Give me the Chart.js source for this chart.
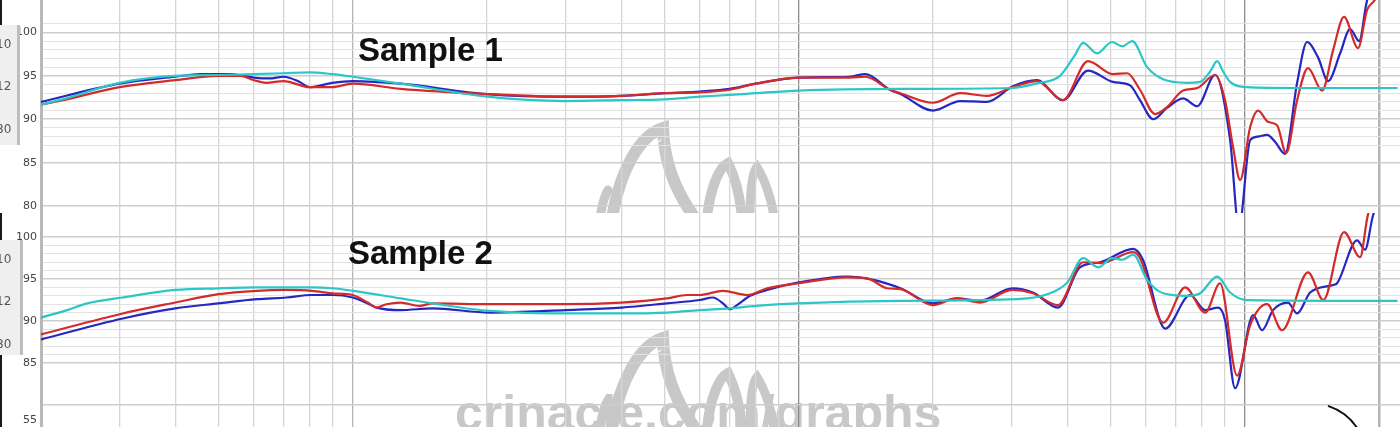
<!DOCTYPE html>
<html lang="en">
<head>
    <meta charset="UTF-8">
    <title>Sample 1 / Sample 2</title>
    <script src="https://cdn.jsdelivr.net/npm/chart.js"></script>
    <style>
        html, body {
            margin: 0;
            padding: 0;
            background: #ffffff;
            overflow: hidden;
        }
        .panel {
            position: absolute;
            left: 0;
            width: 1400px;
        }
        .sample-title {
            position: absolute;
            font-family: 'Liberation Sans', Arial, sans-serif;
            font-weight: bold;
            font-size: 33px;
            line-height: 1;
            color: #111;
            z-index: 5;
        }
    </style>
</head>
<body>
    <canvas id="topChart" class="panel" style="top:0" width="1400" height="213"></canvas>
    <canvas id="bottomChart" class="panel" style="top:213px" width="1400" height="214"></canvas>
    <div class="sample-title" style="left:358px; top:33px">Sample 1</div>
    <div class="sample-title" style="left:348px; top:236px">Sample 2</div>

    <script>
        // grid + axis labels
        const freqTicks = [20, 30, 40, 50, 60, 70, 80, 90, 100, 200, 300, 400, 500, 600, 700, 800, 900,
            1000, 2000, 3000, 4000, 5000, 6000, 7000, 8000, 9000, 10000, 20000];
        const dbLabels = [80, 85, 90, 95, 100];

        // Sample 1 (top graph)
        const s1CyanHz = [20, 22, 30, 40, 50, 60, 70, 80, 90, 100, 128, 200, 300, 400, 500, 600, 700, 800, 1000,
            1700, 3000, 3400, 3850, 4160, 4340, 4660, 5040, 5310, 5590, 6040, 6560, 7420, 7940, 8360, 8670,
            8940, 9270, 10100, 13300, 22000];
        const s1CyanDb = [91.7, 92.2, 94.2, 95.0, 95.1, 95.2, 95.3, 95.4, 95.2, 94.9, 94.1, 92.6, 92.1, 92.2, 92.3,
            92.6, 92.8, 93.0, 93.3, 93.5, 93.6, 94.1, 95.0, 97.4, 98.8, 97.6, 98.9, 98.4, 99.0, 96.0, 94.6,
            94.2, 94.3, 95.5, 96.7, 95.5, 94.3, 93.7, 93.6, 93.6];

        const s1RedHz = [20, 22, 30, 40, 50, 56, 60, 64, 70, 80, 90, 100, 128, 200, 300, 400, 500, 600, 700, 800,
            1000, 1300, 1410, 1600, 1690, 2000, 2300, 2640, 3020, 3420, 3910, 4450, 5060, 5450, 5820, 6290,
            6690, 7270, 7820, 8580, 9030, 9410, 9760, 10280, 10710, 11270, 11810, 12380, 13100, 13860, 14900,
            15780, 16690, 17940, 18800, 19390, 22000];
        const s1RedDb = [91.7, 92.1, 93.7, 94.5, 95.0, 95.0, 94.5, 94.2, 94.4, 93.7, 93.7, 94.1, 93.5, 92.9, 92.6,
            92.7, 93.0, 93.1, 93.4, 94.1, 94.8, 94.8, 94.9, 93.4, 93.0, 91.9, 93.0, 92.7, 93.7, 94.4, 92.2,
            96.7, 95.2, 95.3, 93.4, 90.6, 91.4, 93.3, 93.6, 95.1, 92.2, 86.8, 83.0, 89.1, 91.0, 89.7, 89.3,
            86.1, 92.2, 95.9, 93.3, 98.0, 101.8, 98.2, 102.6, 103.5, 107];

        const s1BlueHz = [20, 30, 40, 45.5, 53, 57, 60, 65, 70, 76, 80, 90, 100, 128, 200, 300, 400, 500, 600, 700,
            800, 1000, 1300, 1410, 1600, 1690, 2000, 2300, 2640, 3020, 3420, 3910, 4450, 5060, 5530, 5820, 6230,
            6690, 7270, 7820, 8580, 9270, 9700, 10280, 10710, 11220, 11690, 12310, 13100, 13790, 14600, 15370,
            16360, 17220, 18040, 18800, 22000];
        const s1BlueDb = [92.0, 94.1, 94.9, 95.2, 95.2, 95.0, 94.8, 94.7, 94.9, 94.3, 93.7, 94.2, 94.4, 94.1, 92.9,
            92.6, 92.7, 93.0, 93.2, 93.5, 94.1, 94.8, 94.9, 95.2, 93.4, 92.9, 91.0, 92.1, 92.0, 93.8, 94.5,
            92.2, 95.6, 94.3, 93.9, 92.2, 90.0, 91.3, 92.4, 91.5, 95.1, 87.6, 77.5, 87.6, 88.0, 88.2, 87.4,
            86.0, 94.2, 98.9, 97.1, 94.4, 97.6, 100.4, 99.0, 103.7, 109];

        // Sample 2 (bottom graph)
        const s2CyanHz = [20, 22.9, 25.4, 30.5, 40, 50, 61, 71, 81, 90, 100, 128, 151, 203, 300, 400, 506, 600,
            700, 800, 1000, 1690, 3090, 3660, 4000, 4340, 4690, 5040, 5310, 5620, 6040, 6560, 7420, 7940, 8670,
            9270, 10100, 22000];
        const s2CyanDb = [90.4, 91.3, 92.1, 92.8, 93.7, 93.9, 94.0, 94.0, 94.0, 93.9, 93.6, 92.7, 92.1, 91.2, 90.9,
            90.9, 91.0, 91.3, 91.5, 91.8, 92.1, 92.4, 92.6, 93.3, 94.6, 97.5, 96.4, 97.5, 97.3, 97.9, 94.9,
            93.3, 93.0, 93.3, 95.3, 93.4, 92.5, 92.4];

        const s2RedHz = [20, 30.5, 40, 50, 61, 71, 81, 90, 100, 108, 113, 119, 128, 141, 151, 203, 300, 400, 506,
            562, 600, 676, 766, 849, 1000, 1280, 1420, 1580, 1690, 2000, 2260, 2550, 3010, 3350, 3810, 4340,
            4740, 5620, 5820, 6560, 7350, 8150, 8800, 9610, 10280, 11220, 12120, 13860, 15000, 16690, 18130,
            18890, 22000];
        const s2RedDb = [88.4, 90.9, 92.2, 93.2, 93.6, 93.7, 93.6, 93.3, 93.1, 92.2, 91.6, 92.0, 92.2, 91.8, 92.1,
            92.0, 92.0, 92.2, 92.7, 93.1, 93.1, 93.6, 93.1, 93.9, 94.5, 95.2, 95.1, 93.9, 93.8, 91.9, 92.7,
            92.2, 93.7, 93.3, 91.9, 97.0, 96.9, 98.2, 97.5, 89.8, 94.0, 91.0, 94.5, 83.5, 89.5, 92.0, 88.9,
            95.8, 92.5, 100.6, 97.6, 102.7, 108];

        const s2BlueHz = [20, 30.5, 40, 50, 61, 71, 81, 90, 100, 108, 113, 128, 151, 203, 300, 400, 506, 600, 642,
            676, 701, 727, 778, 849, 1000, 1280, 1470, 1690, 2000, 2260, 2550, 3010, 3350, 3810, 4270, 4740,
            5620, 5910, 6630, 7540, 8150, 8710, 9030, 9510, 10440, 10930, 11570, 12500, 13100, 14010, 15780,
            16100, 17850, 18600, 19390, 22000];
        const s2BlueDb = [87.8, 90.3, 91.5, 92.1, 92.6, 92.8, 93.1, 93.1, 92.8, 92.1, 91.6, 91.3, 91.5, 91.0, 91.3,
            91.6, 92.1, 92.5, 92.8, 92.1, 91.4, 91.9, 93.0, 93.7, 94.6, 95.3, 94.9, 93.9, 92.1, 92.7, 92.4,
            93.9, 93.4, 91.6, 96.4, 97.0, 98.6, 97.3, 89.1, 93.1, 91.3, 91.6, 90.1, 82.0, 90.7, 88.9, 91.3,
            92.2, 90.9, 93.4, 94.3, 94.5, 99.6, 98.5, 102.6, 108];

        function pts(hz, db) {
            return hz.map((f, i) => ({ x: f, y: db[i] }));
        }

        function line(hz, db, color) {
            return {
                data: pts(hz, db),
                borderColor: color,
                borderWidth: 2.2,
                pointRadius: 0,
                fill: false,
                tension: 0.4,
                cubicInterpolationMode: 'monotone'
            };
        }

        // no label padding: the plot must fill the canvas edge to edge
        function noPad(s) {
            s.paddingTop = 0;
            s.paddingBottom = 0;
            s.paddingLeft = 0;
            s.paddingRight = 0;
        }

        // watermark, side boxes and leftovers of the stacked screenshots
        const decor = {
            id: 'decor',
            beforeDraw(chart, args, o) {
                const ctx = chart.ctx;
                const dy = o.logoDy;
                ctx.save();
                ctx.strokeStyle = '#c8c8c8';
                ctx.lineCap = 'round';
                ctx.lineWidth = 12;
                ctx.beginPath();
                ctx.moveTo(612, 218 + dy);
                ctx.bezierCurveTo(620, 170 + dy, 640, 135 + dy, 663, 128 + dy);
                ctx.bezierCurveTo(664, 165 + dy, 678, 195 + dy, 695, 218 + dy);
                ctx.stroke();
                ctx.lineWidth = 9;
                ctx.beginPath();
                ctx.moveTo(600, 218 + dy);
                ctx.quadraticCurveTo(603, 198 + dy, 608, 190 + dy);
                ctx.stroke();
                ctx.lineWidth = 10;
                ctx.beginPath();
                ctx.moveTo(707, 218 + dy);
                ctx.bezierCurveTo(710, 190 + dy, 718, 168 + dy, 728, 163 + dy);
                ctx.bezierCurveTo(734, 175 + dy, 740, 195 + dy, 742, 218 + dy);
                ctx.stroke();
                ctx.lineWidth = 9;
                ctx.beginPath();
                ctx.moveTo(750, 218 + dy);
                ctx.bezierCurveTo(750, 190 + dy, 752, 172 + dy, 757, 167 + dy);
                ctx.bezierCurveTo(765, 180 + dy, 772, 200 + dy, 774, 218 + dy);
                ctx.stroke();
                ctx.strokeStyle = '#ffffff';
                ctx.lineWidth = 1.2;
                ctx.beginPath();
                ctx.moveTo(622, 218 + dy);
                ctx.bezierCurveTo(630, 175 + dy, 645, 148 + dy, 661, 140 + dy);
                ctx.stroke();
                if (o.watermark) {
                    ctx.fillStyle = '#c8c8c8';
                    ctx.font = 'bold 50px "Liberation Sans", Arial, sans-serif';
                    ctx.textBaseline = 'alphabetic';
                    ctx.fillText('crinacle.com/graphs', 455, 217);
                }
                ctx.restore();
            },
            afterDraw(chart, args, o) {
                const ctx = chart.ctx;
                ctx.save();
                ctx.fillStyle = '#1a1a1a';
                ctx.fillRect(0, 0, 2, o.darkTo);
                ctx.fillStyle = '#efefef';
                ctx.fillRect(0, o.boxTop, o.boxW, o.boxH);
                ctx.fillStyle = '#bdbdbd';
                ctx.fillRect(o.boxW - 2, o.boxTop, 3, o.boxH);
                ctx.fillStyle = '#555';
                ctx.font = '12px "DejaVu Sans", sans-serif';
                ctx.textAlign = 'left';
                ctx.textBaseline = 'middle';
                ctx.fillText('10', -4, o.boxTop + 20);
                ctx.fillText('12', -4, o.boxTop + 62);
                ctx.fillText('80', -4, o.boxTop + 105);
                if (o.bottomStrip) {
                    ctx.fillStyle = '#444';
                    ctx.font = '11px "DejaVu Sans", sans-serif';
                    ctx.textAlign = 'right';
                    ctx.fillText('55', 37, 207);
                    ctx.strokeStyle = '#111';
                    ctx.lineWidth = 2;
                    ctx.beginPath();
                    ctx.arc(1310, 247, 57, -1.25, -0.5);
                    ctx.stroke();
                }
                ctx.restore();
            }
        };

        function makePanel(id, series, yMin, yMax, minorFrom, minorTo, hiddenLabels, decorOpts) {
            const ctx = document.getElementById(id).getContext('2d');
            return new Chart(ctx, {
                type: 'line',
                data: { datasets: series },
                plugins: [decor],
                options: {
                    responsive: false,
                    animation: false,
                    layout: { padding: 0 },
                    plugins: {
                        legend: { display: false },
                        tooltip: { enabled: false },
                        decor: decorOpts
                    },
                    scales: {
                        x: {
                            type: 'logarithmic',
                            min: 20,
                            max: 22280,
                            afterBuildTicks: s => { s.ticks = freqTicks.map(v => ({ value: v })); },
                            afterFit: s => { s.height = 0; noPad(s); },
                            ticks: { display: false },
                            border: { display: false },
                            grid: {
                                drawTicks: false,
                                color: c => {
                                    const v = c.tick && c.tick.value;
                                    if (v === 1000 || v === 10000) return '#8c8c8c';
                                    if (v === 100 || v === 20000) return '#b4b4b4';
                                    return '#d6d6d6';
                                },
                                lineWidth: c => {
                                    const v = c.tick && c.tick.value;
                                    return (v === 20000) ? 2.5 : 1.3;
                                }
                            }
                        },
                        y: {
                            min: yMin,
                            max: yMax,
                            afterBuildTicks: s => {
                                const t = [];
                                for (let v = Math.ceil(yMin); v <= Math.floor(yMax); v++) {
                                    if (v % 5 === 0 || (v >= minorFrom && v <= minorTo)) t.push({ value: v });
                                }
                                s.ticks = t;
                            },
                            afterFit: s => { s.width = 41; noPad(s); },
                            border: { display: true, color: '#b9b9b9', width: 3 },
                            ticks: {
                                autoSkip: false,
                                padding: 4,
                                color: '#444',
                                font: { family: '"DejaVu Sans", sans-serif', size: 11 },
                                callback: v => (dbLabels.includes(v) && !hiddenLabels.includes(v)) ? String(v) : ''
                            },
                            grid: {
                                drawTicks: false,
                                color: c => (c.tick && c.tick.value % 5 === 0) ? '#cdcdcd' : '#e2e2e2',
                                lineWidth: c => (c.tick && c.tick.value % 5 === 0) ? 1.6 : 1.1
                            }
                        }
                    }
                }
            });
        }

        const cyan = '#2cc6c6';
        const red = '#d42a2a';
        const blue = '#2626c0';

        makePanel('topChart', [
            line(s1CyanHz, s1CyanDb, cyan),
            line(s1RedHz, s1RedDb, red),
            line(s1BlueHz, s1BlueDb, blue)
        ], 79.2, 103.74, 87, 101, [], {
            logoDy: 0, watermark: false, darkTo: 25, boxTop: 25, boxW: 19, boxH: 120, bottomStrip: false
        });

        makePanel('bottomChart', [
            line(s2CyanHz, s2CyanDb, cyan),
            line(s2RedHz, s2RedDb, red),
            line(s2BlueHz, s2BlueDb, blue)
        ], 77.37, 102.87, 86, 100, [80], {
            logoDy: -3, watermark: true, darkTo: 214, boxTop: 27, boxW: 22, boxH: 115, bottomStrip: true
        });
    </script>
</body>
</html>
